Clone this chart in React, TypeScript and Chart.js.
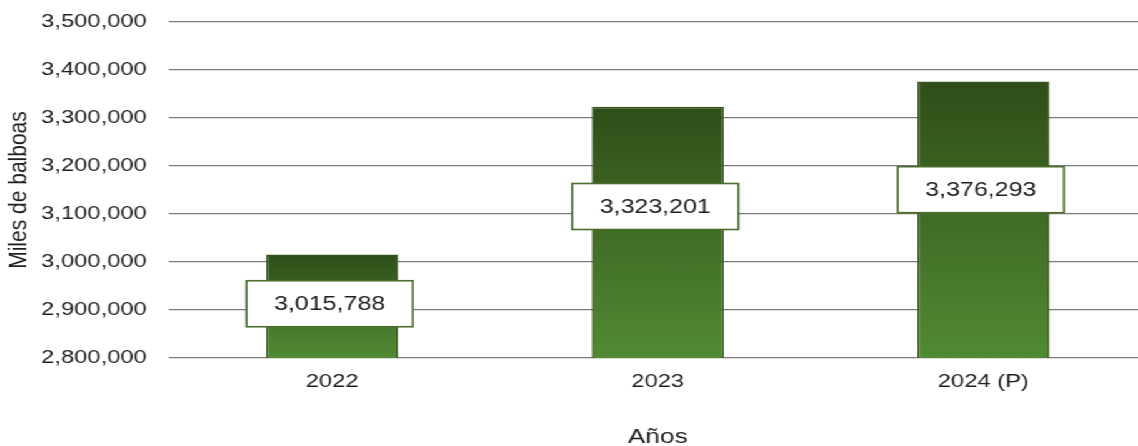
import React, { useEffect, useRef } from 'react';
import { Chart, registerables } from 'chart.js';

Chart.register(...registerables);

const categories = ['2022', '2023', '2024 (P)'];
const values = [3015788, 3323201, 3376293];
const yMin = 2800000;
const yMax = 3500000;
const yStep = 100000;
const yTitle = 'Miles de balboas';
const xTitle = 'Años';

const SX = 1.25;
const W = 917;
const H = 446;
const FONT = "'Liberation Sans', Arial, sans-serif";

const fmt = (v: number) => Math.round(v).toLocaleString('en-US');

const labelPlugin = {
  id: 'boxLabels',
  afterDraw(chart: any) {
    const ctx = chart.ctx;
    const ys = chart.scales.y;
    const xs = chart.scales.x;
    const bottom = chart.chartArea.bottom;
    values.forEach((v, i) => {
      const x = xs.getPixelForValue(i) - 2;
      const top = ys.getPixelForValue(v);
      const cy = top + 0.341 * (bottom - top) + 14;
      const w = 133;
      const h = 46;
      ctx.save();
      ctx.fillStyle = '#ffffff';
      ctx.strokeStyle = '#4a6e2d';
      ctx.lineWidth = 1.6;
      ctx.fillRect(x - w / 2, cy - h / 2, w, h);
      ctx.strokeRect(x - w / 2, cy - h / 2, w, h);
      ctx.fillStyle = '#1e1e1e';
      ctx.font = `20px ${FONT}`;
      ctx.textAlign = 'center';
      ctx.textBaseline = 'middle';
      ctx.fillText(fmt(v), x, cy + 1);
      ctx.restore();
    });
  },
};

export default function App() {
  const ref = useRef<HTMLCanvasElement>(null);
  useEffect(() => {
    const chart = new Chart(ref.current as HTMLCanvasElement, {
      type: 'bar',
      data: {
        labels: categories,
        datasets: [
          {
            data: values,
            backgroundColor: (c: any) => {
              const chart = c.chart;
              if (!chart.chartArea || c.raw == null) return '#45722a';
              const ys = chart.scales.y;
              const top = ys.getPixelForValue(c.raw);
              const bottom = chart.chartArea.bottom;
              const g = chart.ctx.createLinearGradient(0, top, 0, bottom);
              g.addColorStop(0, '#2f4e19');
              g.addColorStop(1, '#528a33');
              return g;
            },
            borderColor: '#36561e',
            borderWidth: 1.5,
            borderSkipped: false,
            barPercentage: 0.4055,
            categoryPercentage: 1,
          },
        ],
      },
      options: {
        responsive: true,
        maintainAspectRatio: false,
        animation: false,
        layout: { padding: { top: 22, right: 0, bottom: 0, left: 0 } },
        plugins: {
          legend: { display: false },
          tooltip: { enabled: false },
          title: { display: false },
        },
        scales: {
          x: {
            grid: { display: false, drawTicks: false },
            border: { display: false },
            ticks: {
              color: '#1e1e1e',
              padding: 12,
              font: { family: FONT, size: 19 },
            },
            title: {
              display: true,
              text: xTitle,
              color: '#1e1e1e',
              font: { family: FONT, size: 21, lineHeight: 0.8 },
              padding: { top: 0, bottom: 0 },
            },
            afterFit: (s: any) => {
              s.height = 88;
            },
          },
          y: {
            min: yMin,
            max: yMax,
            grid: { color: '#7a7a7a', lineWidth: 1.3, drawTicks: false },
            border: { display: false },
            ticks: {
              stepSize: yStep,
              color: '#1e1e1e',
              padding: 18,
              font: { family: FONT, size: 19 },
              callback: (v: any) => fmt(Number(v)),
            },
            title: {
              display: true,
              text: yTitle,
              color: '#1e1e1e',
              font: { family: FONT, size: 21, lineHeight: 1.2 },
              padding: { top: 3, bottom: 0 },
            },
            afterFit: (s: any) => {
              s.width = 135.4;
              s.paddingTop = 0;
              s.paddingBottom = 0;
            },
          },
        },
      },
      plugins: [labelPlugin],
    } as any);
    return () => chart.destroy();
  }, []);
  return (
    <div
      style={{
        position: 'fixed',
        left: 0,
        top: 0,
        width: W,
        height: H,
        transform: `scaleX(${SX})`,
        transformOrigin: '0 0',
        background: '#ffffff',
      }}
    >
      <canvas ref={ref} />
    </div>
  );
}
